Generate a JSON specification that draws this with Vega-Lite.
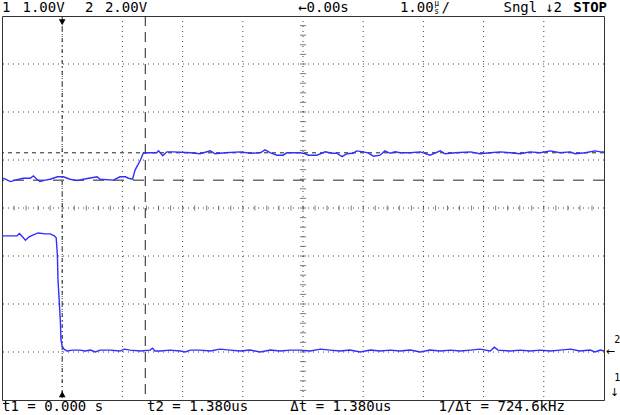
{
  "$schema": "https://vega.github.io/schema/vega-lite/v6.json",
  "width": 602,
  "height": 384,
  "autosize": {"type": "none"},
  "padding": {"left": 2, "top": 16, "right": 16, "bottom": 15},
  "background": "white",
  "config": {"view": {"stroke": "#333", "strokeWidth": 1}},
  "datasets": {
    "vgrid": [{"t": 0}, {"t": 1}, {"t": 2}, {"t": 3}, {"t": 4}, {"t": 5}, {"t": 6}, {"t": 7}, {"t": 8}],
    "hgrid": [{"y": -3}, {"y": -2}, {"y": -1}, {"y": 0}, {"y": 1}, {"y": 2}, {"y": 3}],
    "hticks": [{"t": -0.8}, {"t": -0.6}, {"t": -0.4}, {"t": -0.2}, {"t": 0}, {"t": 0.2}, {"t": 0.4}, {"t": 0.6}, {"t": 0.8}, {"t": 1}, {"t": 1.2}, {"t": 1.4}, {"t": 1.6}, {"t": 1.8}, {"t": 2}, {"t": 2.2}, {"t": 2.4}, {"t": 2.6}, {"t": 2.8}, {"t": 3}, {"t": 3.2}, {"t": 3.4}, {"t": 3.6}, {"t": 3.8}, {"t": 4}, {"t": 4.2}, {"t": 4.4}, {"t": 4.6}, {"t": 4.8}, {"t": 5}, {"t": 5.2}, {"t": 5.4}, {"t": 5.6}, {"t": 5.8}, {"t": 6}, {"t": 6.2}, {"t": 6.4}, {"t": 6.6}, {"t": 6.8}, {"t": 7}, {"t": 7.2}, {"t": 7.4}, {"t": 7.6}, {"t": 7.8}, {"t": 8}, {"t": 8.2}, {"t": 8.4}, {"t": 8.6}, {"t": 8.8}],
    "vticks": [{"y": -3.8}, {"y": -3.6}, {"y": -3.4}, {"y": -3.2}, {"y": -3}, {"y": -2.8}, {"y": -2.6}, {"y": -2.4}, {"y": -2.2}, {"y": -2}, {"y": -1.8}, {"y": -1.6}, {"y": -1.4}, {"y": -1.2}, {"y": -1}, {"y": -0.8}, {"y": -0.6}, {"y": -0.4}, {"y": -0.2}, {"y": 0}, {"y": 0.2}, {"y": 0.4}, {"y": 0.6}, {"y": 0.8}, {"y": 1}, {"y": 1.2}, {"y": 1.4}, {"y": 1.6}, {"y": 1.8}, {"y": 2}, {"y": 2.2}, {"y": 2.4}, {"y": 2.6}, {"y": 2.8}, {"y": 3}, {"y": 3.2}, {"y": 3.4}, {"y": 3.6}, {"y": 3.8}],
    "trace1": [
      {"t": -1.0, "y": -0.58}, {"t": -0.75, "y": -0.58}, {"t": -0.71, "y": -0.53}, {"t": -0.66, "y": -0.60}, {"t": -0.61, "y": -0.67}, {"t": -0.55, "y": -0.60}, {"t": -0.48, "y": -0.56}, {"t": -0.40, "y": -0.52}, {"t": -0.28, "y": -0.54}, {"t": -0.20, "y": -0.54}, {"t": -0.13, "y": -0.58}, {"t": -0.10, "y": -0.62}, {"t": -0.08, "y": -0.98}, {"t": -0.07, "y": -1.50}, {"t": -0.05, "y": -1.92}, {"t": -0.03, "y": -2.38}, {"t": -0.02, "y": -2.75}, {"t": 0.0, "y": -2.88}, {"t": 0.03, "y": -2.94}, {"t": 0.08, "y": -2.98},
      {"t": 0.17, "y": -2.96}, {"t": 0.30, "y": -2.96}, {"t": 0.38, "y": -2.98}, {"t": 0.47, "y": -2.96}, {"t": 0.55, "y": -3.0}, {"t": 0.63, "y": -2.96}, {"t": 0.80, "y": -2.96}, {"t": 0.96, "y": -2.98}, {"t": 1.03, "y": -2.94}, {"t": 1.13, "y": -2.96}, {"t": 1.30, "y": -2.98}, {"t": 1.46, "y": -2.96}, {"t": 1.50, "y": -2.92}, {"t": 1.54, "y": -2.98}, {"t": 1.63, "y": -2.98}, {"t": 1.79, "y": -2.96}, {"t": 1.96, "y": -2.98}, {"t": 2.04, "y": -3.0}, {"t": 2.13, "y": -2.96}, {"t": 2.29, "y": -2.96}, {"t": 2.46, "y": -2.98}, {"t": 2.62, "y": -2.94}, {"t": 2.79, "y": -2.96}, {"t": 2.96, "y": -2.98}, {"t": 3.12, "y": -2.96}, {"t": 3.29, "y": -3.0}, {"t": 3.46, "y": -2.96}, {"t": 3.62, "y": -2.98}, {"t": 3.79, "y": -2.96}, {"t": 3.95, "y": -2.96}, {"t": 4.12, "y": -2.98}, {"t": 4.29, "y": -2.94}, {"t": 4.45, "y": -2.96}, {"t": 4.62, "y": -2.98}, {"t": 4.78, "y": -2.96}, {"t": 4.95, "y": -3.0}, {"t": 5.12, "y": -2.96}, {"t": 5.28, "y": -2.98}, {"t": 5.45, "y": -2.96}, {"t": 5.61, "y": -2.98}, {"t": 5.78, "y": -2.96}, {"t": 5.95, "y": -3.0}, {"t": 6.11, "y": -2.96}, {"t": 6.28, "y": -2.98}, {"t": 6.45, "y": -2.96}, {"t": 6.61, "y": -2.98}, {"t": 6.78, "y": -2.96}, {"t": 6.94, "y": -2.94}, {"t": 7.11, "y": -2.98}, {"t": 7.18, "y": -2.90}, {"t": 7.24, "y": -2.96}, {"t": 7.44, "y": -2.98}, {"t": 7.61, "y": -2.96}, {"t": 7.77, "y": -2.98}, {"t": 7.94, "y": -2.96}, {"t": 8.11, "y": -2.98}, {"t": 8.27, "y": -2.96}, {"t": 8.44, "y": -2.94}, {"t": 8.60, "y": -2.98}, {"t": 8.77, "y": -2.96}, {"t": 8.85, "y": -3.0}, {"t": 8.94, "y": -2.96}, {"t": 9.0, "y": -2.98}
    ],
    "trace2": [
      {"t": -0.98, "y": 0.62}, {"t": -0.86, "y": 0.55}, {"t": -0.78, "y": 0.58}, {"t": -0.65, "y": 0.62}, {"t": -0.53, "y": 0.62}, {"t": -0.48, "y": 0.67}, {"t": -0.42, "y": 0.60}, {"t": -0.37, "y": 0.55}, {"t": -0.28, "y": 0.58}, {"t": -0.20, "y": 0.60}, {"t": -0.08, "y": 0.65}, {"t": 0.02, "y": 0.65}, {"t": 0.13, "y": 0.60}, {"t": 0.25, "y": 0.57}, {"t": 0.35, "y": 0.60}, {"t": 0.58, "y": 0.65}, {"t": 0.63, "y": 0.60}, {"t": 0.85, "y": 0.58}, {"t": 0.96, "y": 0.65}, {"t": 1.05, "y": 0.65}, {"t": 1.10, "y": 0.62}, {"t": 1.17, "y": 0.60}, {"t": 1.21, "y": 0.79}, {"t": 1.30, "y": 1.00}, {"t": 1.35, "y": 1.15}, {"t": 1.57, "y": 1.15}, {"t": 1.60, "y": 1.19}, {"t": 1.67, "y": 1.09}, {"t": 1.74, "y": 1.17}, {"t": 1.84, "y": 1.17}, {"t": 2.13, "y": 1.15}, {"t": 2.29, "y": 1.13}, {"t": 2.46, "y": 1.19}, {"t": 2.54, "y": 1.13}, {"t": 2.71, "y": 1.15}, {"t": 2.96, "y": 1.17}, {"t": 3.12, "y": 1.14}, {"t": 3.29, "y": 1.15}, {"t": 3.37, "y": 1.21}, {"t": 3.46, "y": 1.15}, {"t": 3.57, "y": 1.10}, {"t": 3.67, "y": 1.10}, {"t": 3.73, "y": 1.15}, {"t": 3.95, "y": 1.15}, {"t": 4.04, "y": 1.13}, {"t": 4.09, "y": 1.10}, {"t": 4.23, "y": 1.10}, {"t": 4.37, "y": 1.17}, {"t": 4.48, "y": 1.14}, {"t": 4.56, "y": 1.14}, {"t": 4.65, "y": 1.07}, {"t": 4.73, "y": 1.13}, {"t": 4.83, "y": 1.14}, {"t": 4.89, "y": 1.19}, {"t": 5.0, "y": 1.17}, {"t": 5.08, "y": 1.15}, {"t": 5.17, "y": 1.08}, {"t": 5.28, "y": 1.10}, {"t": 5.36, "y": 1.19}, {"t": 5.45, "y": 1.14}, {"t": 5.53, "y": 1.17}, {"t": 5.61, "y": 1.15}, {"t": 5.78, "y": 1.15}, {"t": 5.95, "y": 1.17}, {"t": 6.11, "y": 1.10}, {"t": 6.28, "y": 1.19}, {"t": 6.36, "y": 1.13}, {"t": 6.53, "y": 1.15}, {"t": 6.78, "y": 1.17}, {"t": 6.94, "y": 1.13}, {"t": 7.11, "y": 1.15}, {"t": 7.28, "y": 1.17}, {"t": 7.44, "y": 1.15}, {"t": 7.61, "y": 1.13}, {"t": 7.77, "y": 1.17}, {"t": 7.94, "y": 1.15}, {"t": 8.11, "y": 1.19}, {"t": 8.27, "y": 1.15}, {"t": 8.44, "y": 1.17}, {"t": 8.52, "y": 1.13}, {"t": 8.69, "y": 1.15}, {"t": 8.85, "y": 1.19}, {"t": 8.94, "y": 1.17}, {"t": 9.0, "y": 1.17}
    ],
    "labels": [
      {"t": -1.0, "y": 4.17, "label": "1"},
      {"t": -0.66, "y": 4.17, "label": "1.00V"},
      {"t": 0.38, "y": 4.17, "label": "2"},
      {"t": 0.71, "y": 4.17, "label": "2.00V"},
      {"t": 3.92, "y": 4.17, "label": "←0.00s"},
      {"t": 5.61, "y": 4.17, "label": "1.00"},
      {"t": 6.3, "y": 4.17, "label": "/"},
      {"t": 7.33, "y": 4.17, "label": "Sngl"},
      {"t": 8.02, "y": 4.17, "label": "↓2"},
      {"t": -1.0, "y": -4.15, "label": "t1 = 0.000 s"},
      {"t": 1.41, "y": -4.15, "label": "t2 = 1.380us"},
      {"t": 3.79, "y": -4.15, "label": "Δt = 1.380us"},
      {"t": 6.25, "y": -4.15, "label": "1/Δt = 724.6kHz"}
    ],
    "small": [
      {"t": 6.18, "y": 4.25, "label": "µ"},
      {"t": 6.18, "y": 4.09, "label": "s"}
    ],
    "gnd": [
      {"t": 9.17, "y": -2.74, "label": "2"},
      {"t": 9.17, "y": -3.55, "label": "1"}
    ],
    "arrows": [
      {"t": 9.03, "y": -3.0, "label": "←"},
      {"t": 9.1, "y": -3.85, "label": "↓"}
    ],
    "stop": [{"t": 8.49, "y": 4.17, "label": "STOP"}]
  },
  "layer": [
    {
      "data": {"name": "vgrid"},
      "mark": {"type": "rule", "color": "#444", "strokeWidth": 1, "strokeDash": [1, 4]},
      "encoding": {"x": {"field": "t", "type": "quantitative", "scale": {"domain": [-1, 9], "nice": false, "zero": false}, "axis": null}}
    },
    {
      "data": {"name": "hgrid"},
      "mark": {"type": "rule", "color": "#444", "strokeWidth": 1, "strokeDash": [1, 4]},
      "encoding": {"y": {"field": "y", "type": "quantitative", "scale": {"domain": [-4, 4], "nice": false, "zero": false}, "axis": null}}
    },
    {
      "data": {"name": "hticks"},
      "mark": {"type": "tick", "orient": "vertical", "size": 5, "thickness": 1, "color": "#444"},
      "encoding": {
        "x": {"field": "t", "type": "quantitative", "axis": null},
        "y": {"datum": 0, "type": "quantitative", "axis": null}
      }
    },
    {
      "data": {"name": "vticks"},
      "mark": {"type": "tick", "orient": "horizontal", "size": 6, "thickness": 1, "color": "#444"},
      "encoding": {
        "x": {"datum": 4, "type": "quantitative", "axis": null},
        "y": {"field": "y", "type": "quantitative", "axis": null}
      }
    },
    {
      "data": {"values": [{"t": 0}]},
      "mark": {"type": "rule", "color": "#222", "strokeWidth": 1, "strokeDash": [4, 3, 1, 3]},
      "encoding": {"x": {"field": "t", "type": "quantitative", "axis": null}}
    },
    {
      "data": {"values": [{"t": 1.38}]},
      "mark": {"type": "rule", "color": "#222", "strokeWidth": 1, "strokeDash": [10, 6]},
      "encoding": {"x": {"field": "t", "type": "quantitative", "axis": null}}
    },
    {
      "data": {"values": [{"y": 1.15}]},
      "mark": {"type": "rule", "color": "#222", "strokeWidth": 1, "strokeDash": [4, 4]},
      "encoding": {"y": {"field": "y", "type": "quantitative", "axis": null}}
    },
    {
      "data": {"values": [{"y": 0.58}]},
      "mark": {"type": "rule", "color": "#222", "strokeWidth": 1, "strokeDash": [11, 9]},
      "encoding": {"y": {"field": "y", "type": "quantitative", "axis": null}}
    },
    {
      "data": {"values": [{"t": 0, "y": 3.87}]},
      "mark": {"type": "point", "shape": "triangle-down", "filled": true, "color": "#000", "size": 45, "opacity": 1},
      "encoding": {"x": {"field": "t", "type": "quantitative", "axis": null}, "y": {"field": "y", "type": "quantitative", "axis": null}}
    },
    {
      "data": {"values": [{"t": 0, "y": -3.88}]},
      "mark": {"type": "point", "shape": "triangle-up", "filled": true, "color": "#000", "size": 45, "opacity": 1},
      "encoding": {"x": {"field": "t", "type": "quantitative", "axis": null}, "y": {"field": "y", "type": "quantitative", "axis": null}}
    },
    {
      "data": {"name": "trace1"},
      "mark": {"type": "line", "color": "#2f2fff", "strokeWidth": 1.4, "interpolate": "linear"},
      "encoding": {"x": {"field": "t", "type": "quantitative", "axis": null}, "y": {"field": "y", "type": "quantitative", "axis": null}}
    },
    {
      "data": {"name": "trace2"},
      "mark": {"type": "line", "color": "#2f2fff", "strokeWidth": 1.4, "interpolate": "linear"},
      "encoding": {"x": {"field": "t", "type": "quantitative", "axis": null}, "y": {"field": "y", "type": "quantitative", "axis": null}}
    },
    {
      "data": {"name": "labels"},
      "mark": {"type": "text", "font": "DejaVu Sans Mono", "fontSize": 14, "align": "left", "baseline": "middle", "color": "#000"},
      "encoding": {"x": {"field": "t", "type": "quantitative", "axis": null}, "y": {"field": "y", "type": "quantitative", "axis": null}, "text": {"field": "label"}}
    },
    {
      "data": {"name": "small"},
      "mark": {"type": "text", "font": "DejaVu Sans Mono", "fontSize": 8, "align": "left", "baseline": "middle", "color": "#000"},
      "encoding": {"x": {"field": "t", "type": "quantitative", "axis": null}, "y": {"field": "y", "type": "quantitative", "axis": null}, "text": {"field": "label"}}
    },
    {
      "data": {"name": "gnd"},
      "mark": {"type": "text", "font": "DejaVu Sans Mono", "fontSize": 10, "align": "left", "baseline": "middle", "color": "#000"},
      "encoding": {"x": {"field": "t", "type": "quantitative", "axis": null}, "y": {"field": "y", "type": "quantitative", "axis": null}, "text": {"field": "label"}}
    },
    {
      "data": {"name": "arrows"},
      "mark": {"type": "text", "font": "DejaVu Sans", "fontSize": 11, "align": "left", "baseline": "middle", "color": "#000"},
      "encoding": {"x": {"field": "t", "type": "quantitative", "axis": null}, "y": {"field": "y", "type": "quantitative", "axis": null}, "text": {"field": "label"}}
    },
    {
      "data": {"name": "stop"},
      "mark": {"type": "text", "font": "DejaVu Sans Mono", "fontSize": 14, "fontWeight": "bold", "align": "left", "baseline": "middle", "color": "#000"},
      "encoding": {"x": {"field": "t", "type": "quantitative", "axis": null}, "y": {"field": "y", "type": "quantitative", "axis": null}, "text": {"field": "label"}}
    }
  ]
}
